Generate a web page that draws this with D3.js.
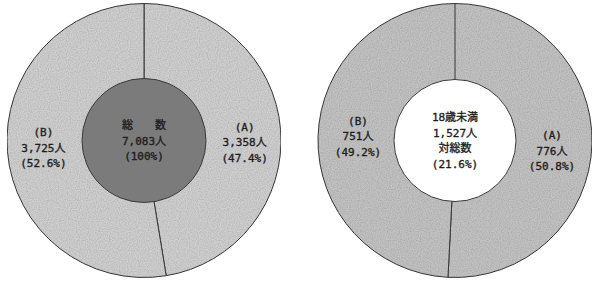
<!DOCTYPE html>
<html>
<head>
<meta charset="utf-8">
<script src="https://cdn.jsdelivr.net/npm/d3@7"></script>
<style>
	body { margin: 0; background: #fff; }
	svg text { font-family: "DejaVu Sans Mono", "Noto Sans CJK JP", monospace; font-size: 11px; fill: #1e1e1e; stroke: #1e1e1e; stroke-width: 0.35px; }
</style>
</head>
<body>
<svg id="chart" width="600" height="285"></svg>
<script>
// data
var categories = ["(A)", "(B)"];
var totalValues = [3358, 3725];
var under18Values = [776, 751];
var totalCenter = ["総　　数", "7,083人", "(100%)"];
var under18Center = ["18歳未満", "1,527人", "対総数", "(21.6%)"];

(function(){
	var w = 600, h = 285;
	var r_outer = 137;
	var line_h = 15.5;

	var svg = d3.select("#chart");

	// grain like the scanned print
	var defs = svg.append("defs");
	var f = defs.append("filter").attr("id", "grain")
		.attr("x", 0).attr("y", 0).attr("width", 1).attr("height", 1);
	f.append("feTurbulence").attr("type", "fractalNoise")
		.attr("baseFrequency", 0.9).attr("numOctaves", 1).attr("seed", 3).attr("result", "n");
	f.append("feColorMatrix").attr("in", "n").attr("type", "matrix")
		.attr("values", "0 0 0 0 0  0 0 0 0 0  0 0 0 0 0  0.5 0 0 0 -0.18")
		.attr("result", "dots");
	f.append("feComposite").attr("in", "dots").attr("in2", "SourceGraphic")
		.attr("operator", "in").attr("result", "dotsIn");
	var m = f.append("feMerge");
	m.append("feMergeNode").attr("in", "SourceGraphic");
	m.append("feMergeNode").attr("in", "dotsIn");

	var xscale = d3.scalePoint().domain([0, 1]).range([144, 455]);
	var pct = d3.format(".1%");
	var num = d3.format(",");

	var charts = [
		{ values: totalValues, center: totalCenter, ring: "#cecece", hole: "#7b7b7b", r_inner: 62, labelR: 101, dyA: 10, dyB: -1 },
		{ values: under18Values, center: under18Center, ring: "#c1c1c1", hole: "#ffffff", r_inner: 61, labelR: 97, dyA: 8, dyB: -2 }
	];

	var pie = d3.pie().sort(null).value(function(d){ return d; });

	charts.forEach(function(c, ci){
		var cy = h / 2 - 2;
		var g = svg.append("g")
			.attr("transform", "translate(" + xscale(ci) + "," + cy + ")");

		var arcs = pie(c.values);
		var total = d3.sum(c.values);

		var arc = d3.arc().innerRadius(0).outerRadius(r_outer);

		g.selectAll("path.slice")
			.data(arcs)
			.enter().append("path")
			.attr("class", "slice")
			.attr("d", arc)
			.attr("fill", c.ring)
			.attr("stroke", "#3a3a3a")
			.attr("stroke-width", 1)
			.attr("filter", "url(#grain)");

		// inner disc
		g.append("circle")
			.attr("r", c.r_inner)
			.attr("fill", c.hole)
			.attr("stroke", "#3a3a3a")
			.attr("stroke-width", 1);

		// segment labels
		var labelArc = d3.arc().innerRadius(c.labelR).outerRadius(c.labelR);
		arcs.forEach(function(a, i){
			var p = labelArc.centroid(a);
			var lines = [categories[i], num(a.data) + "人", "(" + pct(a.data / total) + ")"];
			var dy = i == 0 ? c.dyA : c.dyB;
			g.append("g")
				.attr("transform", "translate(" + p[0] + "," + (p[1] + dy) + ")")
				.selectAll("text")
				.data(lines)
				.enter().append("text")
				.attr("text-anchor", "middle")
				.attr("y", function(d, k){ return (k - (lines.length - 1) / 2) * line_h + 4; })
				.text(function(d){ return d; });
		});

		// center text
		g.selectAll("text.center")
			.data(c.center)
			.enter().append("text")
			.attr("class", "center")
			.attr("text-anchor", "middle")
			.attr("y", function(d, k){ return (k - (c.center.length - 1) / 2) * line_h + 4; })
			.text(function(d){ return d; });
	});
})();
</script>
</body>
</html>
